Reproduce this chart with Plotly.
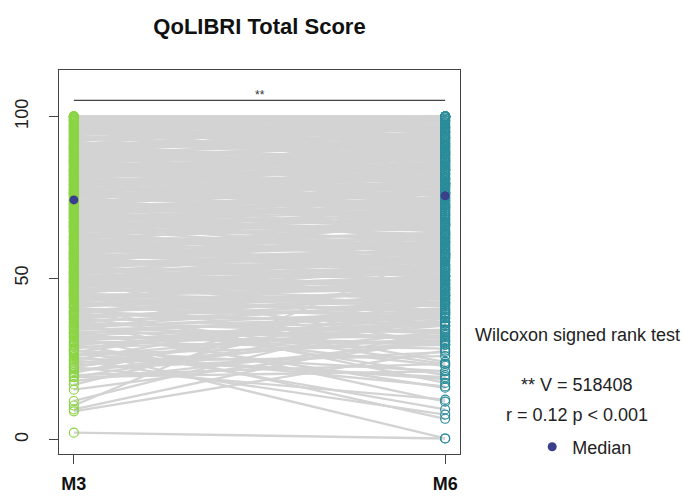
import plotly.graph_objects as go

# ---------------- data ----------------
timepoints = ["M3", "M6"]
title_text = "QoLIBRI Total Score"

m3_scores = [
    100, 100, 100, 99.4, 100, 98.8, 100, 97.6, 98.2, 96.5,
    97.1, 95.9, 96.2, 94.7, 95.3, 93.5, 94.1, 92.9, 93.8, 91.8,
    92.4, 90.6, 91.2, 89.4, 90.0, 88.8, 89.7, 87.6, 88.2, 86.5,
    87.1, 85.9, 86.2, 84.7, 85.3, 83.5, 84.1, 82.9, 83.8, 81.8,
    82.4, 80.6, 81.2, 79.4, 80.0, 78.8, 79.7, 77.6, 78.2, 76.5,
    77.1, 75.9, 76.2, 74.7, 75.3, 73.5, 74.1, 72.9, 73.8, 71.8,
    72.4, 70.6, 71.2, 69.4, 70.0, 68.8, 69.7, 67.6, 68.2, 66.5,
    67.1, 65.9, 66.2, 64.7, 65.3, 63.5, 64.1, 62.9, 63.8, 61.8,
    62.4, 60.6, 61.2, 59.4, 60.0, 58.8, 59.7, 57.6, 58.2, 56.5,
    57.1, 55.9, 56.2, 54.7, 55.3, 53.5, 54.1, 52.9, 53.8, 51.8,
    52.4, 50.6, 51.2, 49.4, 50.0, 48.8, 49.7, 47.6, 48.2, 46.5,
    99.8, 99.1, 98.5, 97.9, 97.4, 96.8, 96.0, 95.6, 94.4, 93.2,
    92.6, 92.1, 91.5, 90.9, 90.3, 89.1, 88.5, 87.9, 87.4, 86.8,
    86.0, 85.6, 84.4, 83.2, 82.6, 82.1, 81.5, 80.9, 80.3, 79.1,
    78.5, 77.9, 77.4, 76.8, 76.0, 75.6, 74.4, 73.2, 72.6, 72.1,
    71.5, 70.9, 70.3, 69.1, 68.5, 67.9, 67.4, 66.8, 66.0, 65.6,
    64.4, 63.2, 62.6, 62.1, 61.5, 60.9, 60.3, 59.1, 58.5, 57.9,
    57.4, 56.8, 56.0, 55.6, 54.4, 53.2, 52.6, 52.1, 51.5, 50.9,
    50.3, 49.1, 48.5, 47.9, 47.4, 46.8, 46.0, 45.6, 45.2, 44.7,
    100, 100, 99.6, 98.9, 97.6, 96.2, 94.9, 93.8, 92.9, 91.4,
    90.2, 89.0, 87.6, 86.3, 84.9, 83.6, 82.8, 81.7, 80.1, 79.0,
    77.7, 76.4, 75.1, 73.9, 72.8, 71.6, 70.2, 68.7, 67.3, 65.8,
    99.0, 96.9, 94.6, 92.3, 90.5, 88.1, 85.8, 83.4, 81.0, 78.7,
    76.3, 74.0, 71.8, 69.5, 67.2, 64.9, 62.7, 60.4, 58.1, 55.8,
    53.6, 51.3, 49.0, 46.2, 44.0, 41.5, 39.8, 37.4, 35.0, 33.0,
    100, 97.2, 93.0, 89.9, 85.0, 80.5, 77.2, 73.0, 68.9, 64.6,
    60.8, 57.7, 54.9, 51.7, 48.4, 45.4, 43.1, 41.0, 39.1, 37.6,
    98.6, 95.4, 91.0, 86.6, 82.0, 76.9, 71.0, 66.4, 61.6, 56.6,
    52.0, 49.8, 47.1, 44.1, 42.0, 39.7, 36.2, 34.4, 32.0, 30.3,
    45.9, 45.0, 44.4, 43.8, 43.5, 42.9, 42.4, 41.8, 41.2, 40.6,
    40.0, 39.4, 38.8, 38.5, 37.9, 37.1, 36.5, 35.9, 35.3, 34.7,
    34.1, 33.5, 32.9, 32.4, 31.8, 31.2, 30.6, 30.0, 29.4, 28.8,
    28.2, 27.6, 27.1, 26.5, 25.9, 25.3, 24.7, 24.1, 23.5, 22.9,
    22.4, 21.8, 21.2, 20.6, 20.0, 19.4, 18.2, 17.1, 15.5, 12.0,
    10.6, 9.4, 8.8, 2.2, 28.0, 31.8, 24.7, 29.4, 36.5, 22.4,
    27.6, 33.5, 41.2, 26.5, 38.2, 44.7, 35.3, 19.4, 48.8, 39.4,
]

m6_scores = [
    100, 98.8, 100, 100, 95.3, 100, 91.8, 99.4, 92.9, 100,
    94.1, 97.6, 88.2, 100, 90.6, 96.5, 85.9, 98.8, 94.7, 89.4,
    100, 92.4, 82.4, 95.3, 87.1, 91.8, 97.6, 80.0, 93.5, 88.8,
    84.7, 90.0, 78.8, 87.6, 92.9, 81.2, 85.3, 89.4, 76.5, 84.1,
    88.2, 77.6, 83.5, 82.4, 74.1, 85.9, 80.6, 79.4, 90.6, 72.9,
    81.8, 78.2, 70.6, 83.5, 75.9, 77.1, 68.2, 80.6, 86.5, 74.7,
    69.4, 76.5, 72.9, 65.9, 78.8, 71.2, 62.4, 73.5, 67.1, 75.3,
    61.2, 70.0, 64.7, 68.8, 57.6, 67.6, 71.8, 60.0, 65.3, 63.5,
    56.5, 64.1, 60.6, 62.9, 54.1, 61.2, 66.5, 55.3, 59.4, 60.0,
    52.9, 58.8, 50.6, 57.6, 62.4, 49.4, 56.5, 51.8, 54.7, 55.9,
    47.1, 53.5, 57.1, 45.9, 51.2, 52.4, 44.7, 50.0, 48.2, 50.6,
    97.1, 100, 96.5, 100, 93.5, 91.2, 98.2, 94.1, 97.1, 90.0,
    95.9, 87.6, 93.5, 85.3, 91.8, 94.7, 83.5, 90.6, 86.5, 92.4,
    81.8, 88.8, 86.5, 78.2, 84.7, 80.0, 87.1, 75.3, 83.5, 77.6,
    82.9, 74.1, 80.6, 71.8, 79.4, 76.5, 72.4, 79.4, 70.0, 75.9,
    68.8, 74.1, 66.5, 72.4, 64.7, 70.6, 63.5, 69.4, 67.6, 61.8,
    66.5, 59.4, 65.9, 58.2, 63.5, 57.1, 62.4, 64.1, 55.9, 61.2,
    53.5, 60.6, 58.2, 52.4, 56.5, 57.6, 49.4, 54.1, 55.3, 47.6,
    52.9, 48.8, 51.8, 45.9, 49.4, 43.5, 47.1, 50.6, 42.4, 46.5,
    100, 100, 98.2, 100, 95.9, 100, 99.4, 88.2, 96.5, 100,
    95.3, 84.1, 91.2, 89.4, 82.4, 88.8, 79.4, 85.9, 81.2, 84.7,
    77.1, 81.2, 74.7, 76.5, 78.2, 73.5, 71.8, 66.5, 72.9, 68.2,
    87.1, 83.5, 100, 78.8, 98.8, 100, 72.4, 95.3, 91.2, 69.4,
    89.4, 64.1, 85.3, 78.8, 57.1, 74.7, 70.0, 50.6, 68.2, 63.5,
    43.5, 61.2, 56.5, 54.1, 50.6, 48.8, 47.1, 45.3, 42.4, 39.4,
    93.5, 100, 100, 96.5, 100, 93.5, 88.2, 84.1, 79.4, 76.5,
    71.8, 67.1, 62.9, 59.4, 57.6, 52.9, 51.2, 49.4, 46.5, 44.7,
    88.8, 86.5, 80.6, 75.9, 71.2, 67.1, 61.8, 58.8, 52.4, 48.2,
    44.1, 45.3, 41.8, 39.4, 37.6, 35.3, 32.9, 31.8, 30.0, 28.2,
    48.2, 41.2, 47.6, 44.7, 39.4, 45.3, 40.0, 43.5, 46.5, 38.8,
    42.9, 44.1, 36.5, 40.6, 42.4, 38.2, 41.8, 33.5, 37.6, 40.0,
    36.5, 31.2, 38.8, 35.3, 29.4, 34.1, 36.5, 32.4, 35.9, 30.6,
    38.8, 21.2, 42.4, 29.4, 35.3, 19.4, 44.7, 25.9, 36.5, 31.8,
    40.0, 27.1, 33.5, 46.5, 23.5, 37.6, 30.6, 44.7, 30.6, 40.6,
    58.8, 34.1, 27.6, 0.4, 0.4, 6.5, 7.8, 9.4, 11.8, 12.4,
    16.5, 16.1, 17.6, 18.8, 20.0, 24.1, 22.9, 21.2, 29.4, 23.5,
]

median_scores = [74.2, 75.5]

bracket_y = 105
bracket_label = "**"
test_name = "Wilcoxon signed rank test"
test_stat = "** V = 518408"
test_effect = "r = 0.12 p < 0.001"
median_label = "Median"

assert len(m3_scores) == len(m6_scores)

# ---------------- styling ----------------
FONT = "Liberation Sans, Arial, Helvetica, sans-serif"
GREEN = "#8BD444"
TEAL = "#2A8C9A"
MEDIAN_COL = "#3A3F8C"
GRAY = "#D3D3D3"
FRAME = "#444444"

positions = list(range(1, len(timepoints) + 1))
x0, x1 = positions

# paired lines
lx, ly = [], []
for a, b in zip(m3_scores, m6_scores):
    lx += [x0, x1, None]
    ly += [a, b, None]

fig = go.Figure()
fig.add_trace(go.Scatter(x=lx, y=ly, mode="lines",
                         line=dict(color=GRAY, width=2.3),
                         showlegend=False, hoverinfo="skip"))
fig.add_trace(go.Scatter(x=[x0] * len(m3_scores), y=m3_scores, mode="markers",
                         marker=dict(symbol="circle-open", size=9, color=GREEN,
                                     line=dict(width=1.2, color=GREEN)),
                         showlegend=False, name="M3"))
fig.add_trace(go.Scatter(x=[x1] * len(m6_scores), y=m6_scores, mode="markers",
                         marker=dict(symbol="circle-open", size=9, color=TEAL,
                                     line=dict(width=1.2, color=TEAL)),
                         showlegend=False, name="M6"))
# significance bracket
fig.add_trace(go.Scatter(x=positions, y=[bracket_y] * len(positions), mode="lines",
                         line=dict(color=FRAME, width=1.2),
                         showlegend=False, hoverinfo="skip"))
# medians
fig.add_trace(go.Scatter(x=positions, y=median_scores, mode="markers",
                         marker=dict(symbol="circle", size=9, color=MEDIAN_COL),
                         name=median_label, showlegend=True))

fig.add_annotation(x=(x0 + x1) / 2, y=bracket_y, xref="x", yref="y",
                   text=bracket_label, showarrow=False, yanchor="bottom",
                   font=dict(family=FONT, size=12, color="#333333"), yshift=-4)

# right side text
for txt, yy in [(test_name, 0.310), (test_stat, 0.180), (test_effect, 0.102)]:
    fig.add_annotation(x=1.292, y=yy, xref="paper", yref="paper", text=txt,
                       showarrow=False, xanchor="center", yanchor="middle",
                       font=dict(family=FONT, size=18, color="#222222"))

fig.update_layout(
    width=684, height=496,
    margin=dict(l=59, r=224, t=70, b=42),
    paper_bgcolor="white", plot_bgcolor="white",
    font=dict(family=FONT, size=18, color="#222222"),
    title=dict(text="<b>" + title_text + "</b>", x=0.5, xref="paper",
               y=1 - 26 / 496, yref="container", yanchor="middle", xanchor="center",
               font=dict(family=FONT, size=22, color="#111111")),
    showlegend=True,
    legend=dict(x=1.18, y=0.018, xref="paper", yref="paper", xanchor="left",
                yanchor="middle", bgcolor="rgba(0,0,0,0)",
                font=dict(family=FONT, size=18, color="#222222"),
                itemwidth=30),
)
fig.update_xaxes(range=[0.96, 2.04], tickvals=positions,
                 ticktext=["<b>" + t + "</b>" for t in timepoints],
                 ticks="outside", ticklen=9, tickcolor=FRAME, tickwidth=1,
                 showline=True, linecolor=FRAME, linewidth=1, mirror=True,
                 showgrid=False, zeroline=False, automargin=False,
                 tickfont=dict(family=FONT, size=18, color="#111111"),
                 ticklabelstandoff=4)
fig.update_yaxes(range=[-4.4, 114.4], tickvals=[0, 50, 100],
                 ticks="outside", ticklen=9, tickcolor=FRAME, tickwidth=1,
                 showline=True, linecolor=FRAME, linewidth=1, mirror=True,
                 showgrid=False, zeroline=False, tickangle=-90, automargin=False,
                 tickfont=dict(family=FONT, size=18, color="#222222"),
                 ticklabelstandoff=14)

fig.write_html("out.html")
